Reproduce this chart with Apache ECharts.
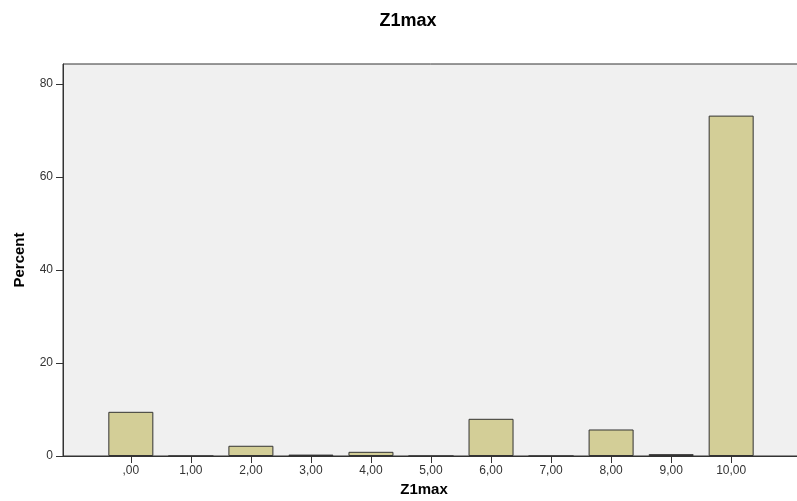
<!DOCTYPE html>
<html>
<head>
<meta charset="utf-8">
<script src="https://cdn.jsdelivr.net/npm/echarts@6/dist/echarts.min.js"></script>
<style>
html,body{margin:0;padding:0;background:#fff;}
#chart{width:797px;height:501px;}
</style>
</head>
<body>
<div id="chart"></div>
<script>
// Data
const categories = [0, 1, 2, 3, 4, 5, 6, 7, 8, 9, 10];
const categoryLabels = [',00', '1,00', '2,00', '3,00', '4,00', '5,00', '6,00', '7,00', '8,00', '9,00', '10,00'];
const percentValues = [9.5, 0, 2.2, 0.3, 0.9, 0, 8.0, 0, 5.7, 0.4, 73.2];
const yTicks = [0, 20, 40, 60, 80];

const chart = echarts.init(document.getElementById('chart'), null, {renderer: 'canvas'});
const fontFamily = '"Liberation Sans", Arial, sans-serif';

const seriesData = categories.map((c, i) => [c, percentValues[i]]);

chart.setOption({
  animation: false,
  backgroundColor: '#ffffff',
  title: {
    text: 'Z1max',
    left: 403,
    textAlign: 'center',
    top: 7,
    textStyle: {fontFamily, fontSize: 18, fontWeight: 'bold', color: '#000'}
  },
  grid: {
    left: 63, right: -2, top: 64, bottom: 45,
    show: true,
    backgroundColor: '#f0f0f0',
    borderColor: '#333333',
    borderWidth: 1,
    containLabel: false,
    outerBoundsMode: 'none'
  },
  xAxis: {
    type: 'value',
    min: -1.13,
    max: 11.13,
    name: 'Z1max',
    nameLocation: 'middle',
    nameGap: 26,
    nameTextStyle: {fontFamily, fontSize: 15, fontWeight: 'bold', color: '#000', padding: [0, 14, 0, 0]},
    splitLine: {show: false},
    axisLine: {show: true, onZero: false, lineStyle: {color: '#333333', width: 1}},
    axisTick: {show: true, length: 7, customValues: categories, lineStyle: {color: '#333333'}},
    axisLabel: {
      customValues: categories,
      fontFamily, fontSize: 12, color: '#333', margin: 9,
      formatter: v => categoryLabels[categories.indexOf(Math.round(v))]
    }
  },
  yAxis: {
    type: 'value',
    min: 0,
    max: 84.3,
    name: 'Percent',
    nameLocation: 'middle',
    nameGap: 36,
    nameTextStyle: {fontFamily, fontSize: 15, fontWeight: 'bold', color: '#000'},
    splitLine: {show: false},
    axisLine: {show: true, onZero: false, lineStyle: {color: '#333333', width: 1}},
    axisTick: {show: true, length: 7, customValues: yTicks, lineStyle: {color: '#333333'}},
    axisLabel: {customValues: yTicks, fontFamily, fontSize: 12, color: '#333', margin: 10}
  },
  series: [{
    type: 'bar',
    data: seriesData,
    barWidth: 45,
    itemStyle: {color: '#d3ce97', borderColor: '#333333', borderWidth: 1}
  }]
});
</script>
</body>
</html>
